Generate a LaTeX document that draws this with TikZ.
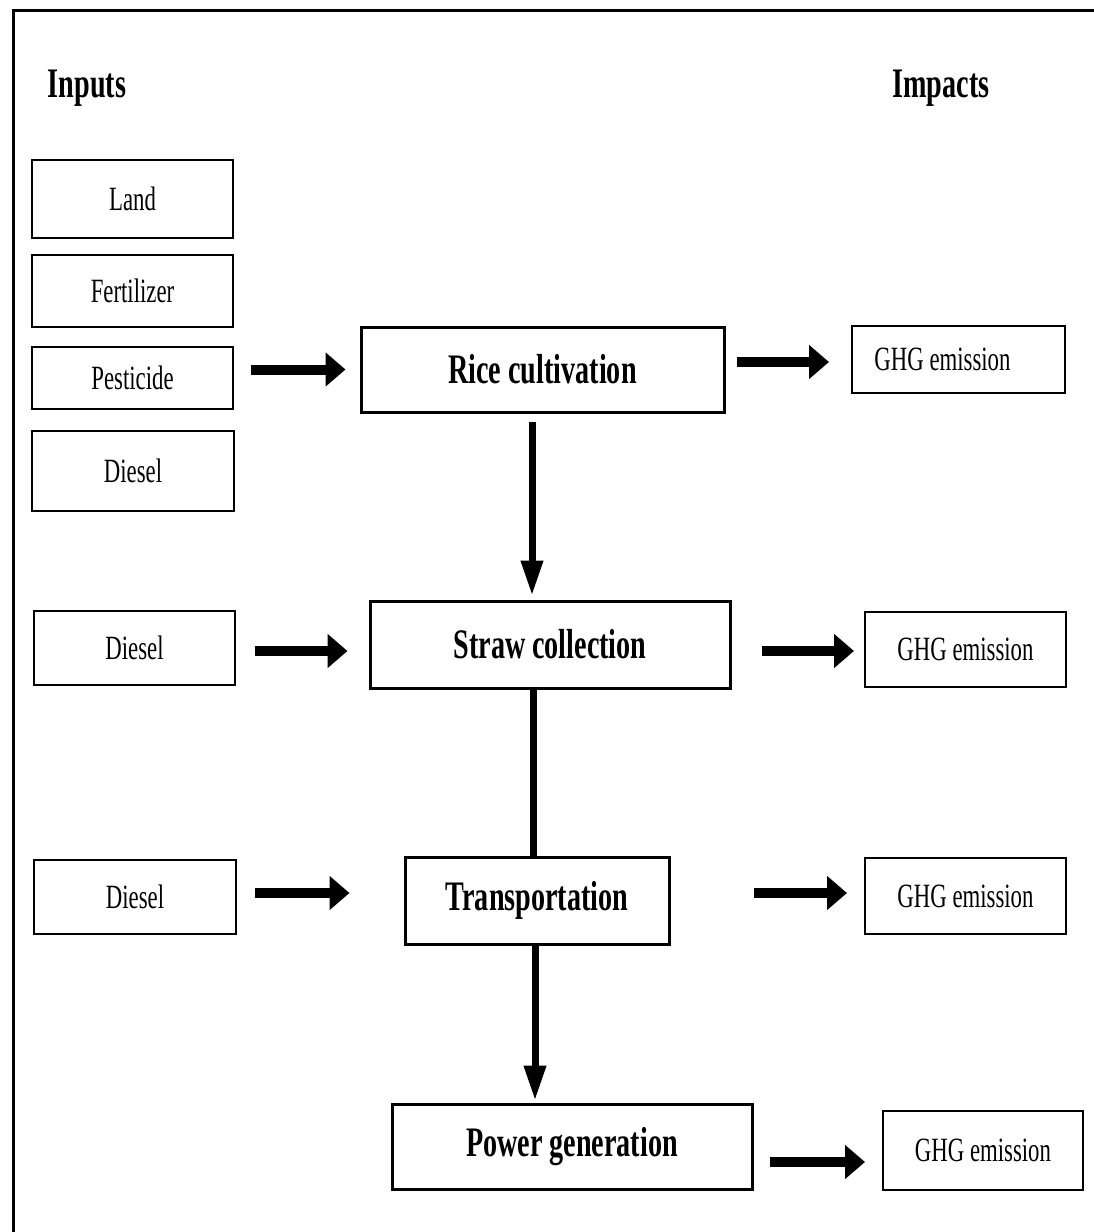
\documentclass[tikz,border=0pt]{standalone}
\usepackage{fontspec}
\setmainfont{Liberation Serif}[FakeStretch=0.67]
\usetikzlibrary{arrows.meta,calc}
\tikzset{
  thinbox/.style={draw, line width=2pt, inner sep=0pt, font=\fontsize{34}{40}\selectfont},
  procbox/.style={draw, line width=3pt, inner sep=0pt, font=\fontsize{42}{48}\selectfont\bfseries},
  heading/.style={inner sep=0pt, font=\fontsize{42}{48}\selectfont\bfseries},
  harrow/.style={line width=10pt, -{Triangle[length=20pt,width=33pt]}},
  varrow/.style={line width=7pt, -{Triangle[length=35pt,width=21pt]}},
  vline/.style={line width=7pt},
  frame/.style={line width=3pt}
}
\begin{document}
\begin{tikzpicture}[x=1pt,y=-1pt]
\useasboundingbox (0,0) rectangle (1094,1232);
\fill[white] (0,0) rectangle (1094,1232);
\draw[frame] (13,1232) -- (13,10) -- (1094,10);

\node[heading] (inputs) at (87,88) {Inputs};
\node[heading] (impacts) at (941,88) {Impacts};

% inputs
\node[thinbox, minimum width=201pt, minimum height=78pt] (land) at (132.5,199) {Land};
\node[thinbox, minimum width=201pt, minimum height=72pt] (fert) at (132.5,291) {Fertilizer};
\node[thinbox, minimum width=201pt, minimum height=62pt] (pest) at (132.5,378) {Pesticide};
\node[thinbox, minimum width=202pt, minimum height=80pt] (dies1) at (133,471) {Diesel};
\node[thinbox, minimum width=201pt, minimum height=74pt] (dies2) at (134.5,648) {Diesel};
\node[thinbox, minimum width=202pt, minimum height=74pt] (dies3) at (135,897) {Diesel};

% processes
\node[procbox, minimum width=363pt, minimum height=85pt] (rice) at (542.5,369.5) {Rice cultivation};
\node[procbox, minimum width=360pt, minimum height=87pt] (straw) at (550,644.5) {Straw collection};
\node[procbox, minimum width=264pt, minimum height=87pt] (trans) at (537,900.5) {Transportation};
\node[procbox, minimum width=360pt, minimum height=85pt] (power) at (572,1146.5) {Power generation};

% impacts
\node[thinbox, minimum width=213pt, minimum height=67pt] (ghg1) at (958.5,359.5) {\hspace*{-32pt}GHG emission};
\node[thinbox, minimum width=201pt, minimum height=75pt] (ghg2) at (965.5,649.5) {GHG emission};
\node[thinbox, minimum width=201pt, minimum height=76pt] (ghg3) at (965.5,896) {GHG emission};
\node[thinbox, minimum width=200pt, minimum height=79pt] (ghg4) at (983,1150.5) {GHG emission};

% horizontal arrows
\draw[harrow, shorten <=17pt, shorten >=14pt] (pest.east |- rice.west) -- (rice.west);
\draw[harrow, shorten <=11pt, shorten >=22pt] ([yshift=-2.5pt]rice.east |- ghg1.west) -- ([yshift=-2.5pt]ghg1.west);
\draw[harrow, shorten <=19pt, shorten >=21pt] ([yshift=-3pt]dies2.east) -- ([yshift=-3pt]dies2.east -| straw.west);
\draw[harrow, shorten <=30pt, shorten >=10pt] ([yshift=-1.5pt]straw.east |- ghg2.west) -- ([yshift=-1.5pt]ghg2.west);
\draw[harrow, shorten <=18pt, shorten >=54pt] ([yshift=4pt]dies3.east) -- ([yshift=4pt]dies3.east -| trans.west);
\draw[harrow, shorten <=83pt, shorten >=17pt] ([yshift=3pt]trans.east |- ghg3.west) -- ([yshift=3pt]ghg3.west);
\draw[harrow, shorten <=16pt, shorten >=17pt] ([yshift=-15.5pt]power.east) -- ([yshift=-15.5pt]power.east -| ghg4.west);

% vertical connectors
\draw[varrow, shorten <=8pt, shorten >=4pt] ([xshift=-10.5pt]rice.south) -- ([xshift=-10.5pt]rice.south |- straw.north);
\draw[vline] ([xshift=-4pt]trans.north |- straw.south) -- ([xshift=-4pt]trans.north);
\draw[varrow, shorten >=2pt] ([xshift=-2pt]trans.south) -- ([xshift=-2pt]trans.south |- power.north);
\end{tikzpicture}
\end{document}
